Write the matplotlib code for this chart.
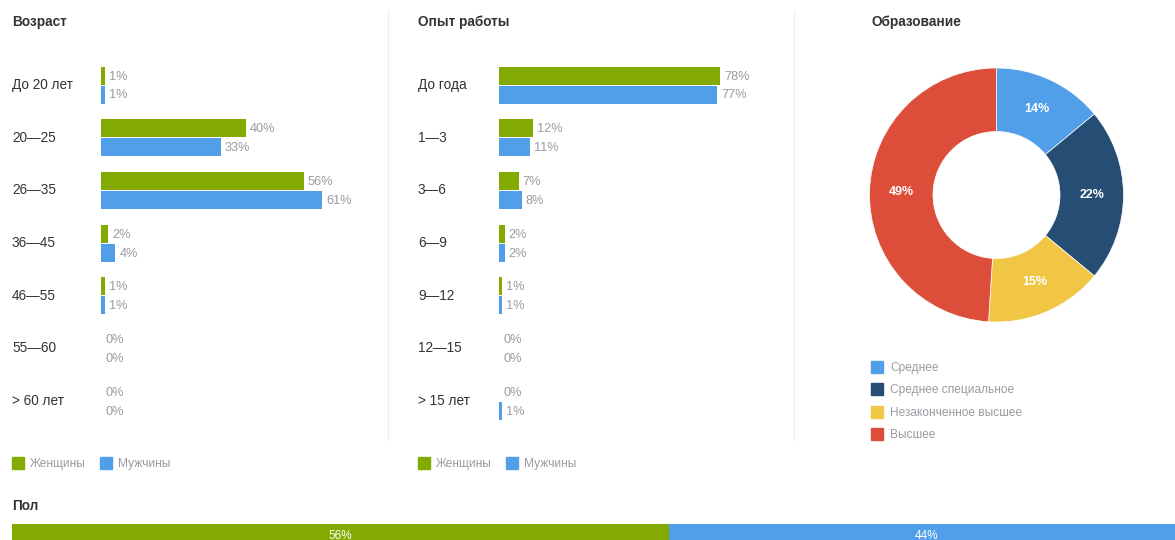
import matplotlib
matplotlib.use('Agg')
import matplotlib.pyplot as plt
import numpy as np
from matplotlib.patches import Rectangle
from matplotlib.transforms import blended_transform_factory

plt.rcParams['font.family'] = ['Liberation Sans', 'DejaVu Sans']

# data
age_labels = ['До 20 лет', '20—25', '26—35', '36—45', '46—55', '55—60', '> 60 лет']
age_women = [1, 40, 56, 2, 1, 0, 0]
age_men = [1, 33, 61, 4, 1, 0, 0]

exp_labels = ['До года', '1—3', '3—6', '6—9', '9—12', '12—15', '> 15 лет']
exp_women = [78, 12, 7, 2, 1, 0, 0]
exp_men = [77, 11, 8, 2, 1, 0, 1]

edu_labels = ['Среднее', 'Среднее специальное', 'Незаконченное высшее', 'Высшее']
edu_values = [14, 22, 15, 49]

sex_labels = ['Женщины', 'Мужчины']
sex_values = [56, 44]

GREEN = '#82aa00'
BLUE = '#519fe8'
edu_colors = ['#519fe8', '#264d73', '#f1c644', '#dd4e3a']
DARK = '#333333'
GREY = '#9a9aa2'

W, H = 1175, 540
fig = plt.figure(figsize=(W / 100, H / 100), dpi=100)


def box(x0, y0, x1, y1):
    # pixel box (top-left origin) -> figure fraction rect
    return [x0 / W, 1 - y1 / H, (x1 - x0) / W, (y1 - y0) / H]


def fx(x):
    return x / W


def fy(y):
    return 1 - y / H


def square(x, y, color, size=12):
    fig.patches.append(Rectangle((fx(x), fy(y + size / 2)), size / W, size / H,
                                 transform=fig.transFigure, color=color))


def bar_panel(x_text, x_bars, title, labels, women, men):
    row = 52.67
    n = len(labels)
    top = 85 - row / 2
    ax = fig.add_axes(box(x_bars, top, x_bars + 270, top + n * row))
    scale = 221 / max(max(women), max(men))  # px per percent
    ax.set_xlim(0, 270 / scale)
    ax.set_ylim(n - 0.5, -0.5)
    ax.axis('off')
    y = np.arange(n)
    off = 9.5 / row
    h = 18 / row
    ax.barh(y - off, women, height=h, color=GREEN)
    ax.barh(y + off, men, height=h, color=BLUE)
    for i in range(n):
        ax.annotate(f'{women[i]}%', xy=(women[i], y[i] - off), xytext=(4, -1),
                    textcoords='offset pixels', va='center', ha='left',
                    fontsize=9.2, color=GREY)
        ax.annotate(f'{men[i]}%', xy=(men[i], y[i] + off), xytext=(4, -1),
                    textcoords='offset pixels', va='center', ha='left',
                    fontsize=9.2, color=GREY)
    tr = blended_transform_factory(fig.transFigure, ax.transData)
    for i, lab in enumerate(labels):
        ax.text(fx(x_text), i, lab, transform=tr, ha='left', va='center',
                fontsize=9.8, color=DARK)
    fig.text(fx(x_text), fy(22), title, fontsize=9.8, fontweight='bold',
             color=DARK, va='center')
    # legend
    square(x_text, 463, GREEN)
    fig.text(fx(x_text + 18), fy(464), sex_labels[0], fontsize=8.6, color=GREY, va='center')
    square(x_text + 88, 463, BLUE)
    fig.text(fx(x_text + 106), fy(464), sex_labels[1], fontsize=8.6, color=GREY, va='center')


bar_panel(12, 101, 'Возраст', age_labels, age_women, age_men)
bar_panel(418, 499, 'Опыт работы', exp_labels, exp_women, exp_men)

# dividers
for xd in (388, 794):
    fig.add_artist(plt.Line2D([fx(xd), fx(xd)], [fy(10), fy(440)],
                              transform=fig.transFigure, color='#eeeeee', lw=1))

# donut
cx, cy, R = 996.5, 195, 127
axp = fig.add_axes(box(cx - R, cy - R, cx + R, cy + R))
wedges, texts, autotexts = axp.pie(
    edu_values, colors=edu_colors, startangle=90, counterclock=False,
    radius=1, wedgeprops=dict(width=0.5, edgecolor='white', linewidth=0.5),
    autopct='%d%%', pctdistance=0.75,
    textprops=dict(color='white', fontsize=9, fontweight='bold'))
axp.set_xlim(-1, 1)
axp.set_ylim(-1, 1)
axp.set_aspect('equal')
axp.axis('off')
fig.text(fx(871), fy(22), 'Образование', fontsize=9.8, fontweight='bold',
         color=DARK, va='center')
for i, lab in enumerate(edu_labels):
    yy = 366.5 + i * 22.6
    square(871, yy, edu_colors[i])
    fig.text(fx(890), fy(yy + 1), lab, fontsize=8.6, color=GREY, va='center')

# sex bar
fig.text(fx(12), fy(506), 'Пол', fontsize=9.8, fontweight='bold', color=DARK, va='center')
axs = fig.add_axes(box(12, 524, 1185, 548))
left = np.concatenate([[0], np.cumsum(sex_values)[:-1]])
axs.barh([0], sex_values, left=left, color=[GREEN, BLUE], height=1)
axs.set_xlim(0, sum(sex_values))
axs.set_ylim(0.5, -0.5)
axs.axis('off')
for l, v in zip(left, sex_values):
    axs.text(l + v / 2, 0.0, f'{v}%', ha='center', va='center', color='white', fontsize=8.5)

fig.savefig('out.png', dpi=100)
